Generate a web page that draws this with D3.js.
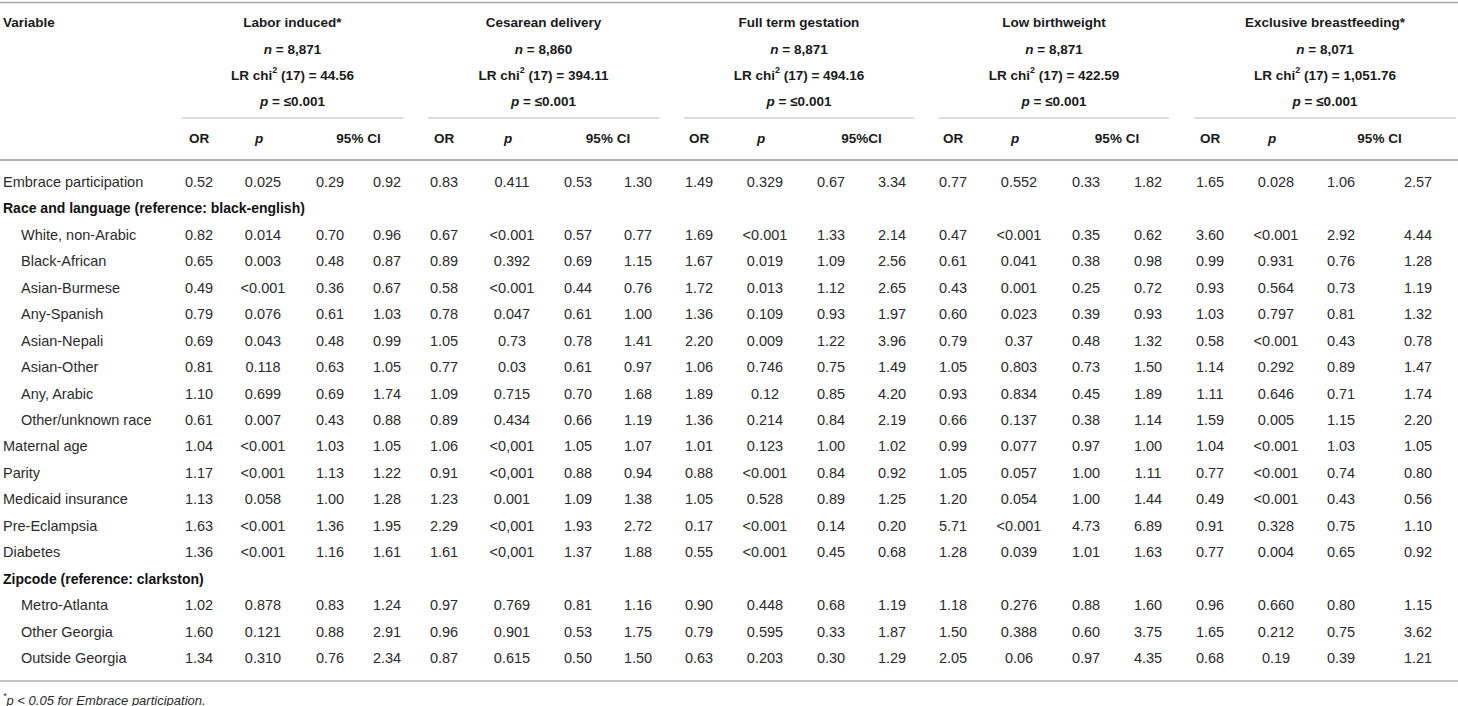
<!DOCTYPE html>
<html>
<head>
<meta charset="utf-8">
<script src="https://cdn.jsdelivr.net/npm/d3@7"></script>
<style>
  body { margin: 0; background: #fff; }
  svg { display: block; font-family: "Liberation Sans", Arial, sans-serif; }
</style>
</head>
<body>
<div id="table"></div>
<script>
// outcome headers
const outcomes = ["Labor induced*", "Cesarean delivery", "Full term gestation", "Low birthweight", "Exclusive breastfeeding*"];
const sampleN = ["8,871", "8,860", "8,871", "8,871", "8,071"];
const lrChi2 = ["44.56", "394.11", "494.16", "422.59", "1,051.76"];
const modelP = ["≤0.001", "≤0.001", "≤0.001", "≤0.001", "≤0.001"];
const ciHeaders = ["95% CI", "95% CI", "95%CI", "95% CI", "95% CI"];

// row labels, kind: v = variable, s = section, i = indented item
const rowLabels = [
  "Embrace participation",
  "Race and language (reference: black-english)",
  "White, non-Arabic", "Black-African", "Asian-Burmese", "Any-Spanish",
  "Asian-Nepali", "Asian-Other", "Any, Arabic", "Other/unknown race",
  "Maternal age", "Parity", "Medicaid insurance", "Pre-Eclampsia", "Diabetes",
  "Zipcode (reference: clarkston)",
  "Metro-Atlanta", "Other Georgia", "Outside Georgia"
];
const rowKinds = ["v", "s", "i", "i", "i", "i", "i", "i", "i", "i", "v", "v", "v", "v", "v", "s", "i", "i", "i"];

// OR, p, CI low, CI high per row
const laborInduced = [
  ["0.52", "0.025", "0.29", "0.92"], null,
  ["0.82", "0.014", "0.70", "0.96"], ["0.65", "0.003", "0.48", "0.87"],
  ["0.49", "<0.001", "0.36", "0.67"], ["0.79", "0.076", "0.61", "1.03"],
  ["0.69", "0.043", "0.48", "0.99"], ["0.81", "0.118", "0.63", "1.05"],
  ["1.10", "0.699", "0.69", "1.74"], ["0.61", "0.007", "0.43", "0.88"],
  ["1.04", "<0.001", "1.03", "1.05"], ["1.17", "<0.001", "1.13", "1.22"],
  ["1.13", "0.058", "1.00", "1.28"], ["1.63", "<0.001", "1.36", "1.95"],
  ["1.36", "<0.001", "1.16", "1.61"], null,
  ["1.02", "0.878", "0.83", "1.24"], ["1.60", "0.121", "0.88", "2.91"],
  ["1.34", "0.310", "0.76", "2.34"]
];
const cesarean = [
  ["0.83", "0.411", "0.53", "1.30"], null,
  ["0.67", "<0.001", "0.57", "0.77"], ["0.89", "0.392", "0.69", "1.15"],
  ["0.58", "<0.001", "0.44", "0.76"], ["0.78", "0.047", "0.61", "1.00"],
  ["1.05", "0.73", "0.78", "1.41"], ["0.77", "0.03", "0.61", "0.97"],
  ["1.09", "0.715", "0.70", "1.68"], ["0.89", "0.434", "0.66", "1.19"],
  ["1.06", "<0,001", "1.05", "1.07"], ["0.91", "<0,001", "0.88", "0.94"],
  ["1.23", "0.001", "1.09", "1.38"], ["2.29", "<0,001", "1.93", "2.72"],
  ["1.61", "<0,001", "1.37", "1.88"], null,
  ["0.97", "0.769", "0.81", "1.16"], ["0.96", "0.901", "0.53", "1.75"],
  ["0.87", "0.615", "0.50", "1.50"]
];
const fullTerm = [
  ["1.49", "0.329", "0.67", "3.34"], null,
  ["1.69", "<0.001", "1.33", "2.14"], ["1.67", "0.019", "1.09", "2.56"],
  ["1.72", "0.013", "1.12", "2.65"], ["1.36", "0.109", "0.93", "1.97"],
  ["2.20", "0.009", "1.22", "3.96"], ["1.06", "0.746", "0.75", "1.49"],
  ["1.89", "0.12", "0.85", "4.20"], ["1.36", "0.214", "0.84", "2.19"],
  ["1.01", "0.123", "1.00", "1.02"], ["0.88", "<0.001", "0.84", "0.92"],
  ["1.05", "0.528", "0.89", "1.25"], ["0.17", "<0.001", "0.14", "0.20"],
  ["0.55", "<0.001", "0.45", "0.68"], null,
  ["0.90", "0.448", "0.68", "1.19"], ["0.79", "0.595", "0.33", "1.87"],
  ["0.63", "0.203", "0.30", "1.29"]
];
const lowBirthweight = [
  ["0.77", "0.552", "0.33", "1.82"], null,
  ["0.47", "<0.001", "0.35", "0.62"], ["0.61", "0.041", "0.38", "0.98"],
  ["0.43", "0.001", "0.25", "0.72"], ["0.60", "0.023", "0.39", "0.93"],
  ["0.79", "0.37", "0.48", "1.32"], ["1.05", "0.803", "0.73", "1.50"],
  ["0.93", "0.834", "0.45", "1.89"], ["0.66", "0.137", "0.38", "1.14"],
  ["0.99", "0.077", "0.97", "1.00"], ["1.05", "0.057", "1.00", "1.11"],
  ["1.20", "0.054", "1.00", "1.44"], ["5.71", "<0.001", "4.73", "6.89"],
  ["1.28", "0.039", "1.01", "1.63"], null,
  ["1.18", "0.276", "0.88", "1.60"], ["1.50", "0.388", "0.60", "3.75"],
  ["2.05", "0.06", "0.97", "4.35"]
];
const breastfeeding = [
  ["1.65", "0.028", "1.06", "2.57"], null,
  ["3.60", "<0.001", "2.92", "4.44"], ["0.99", "0.931", "0.76", "1.28"],
  ["0.93", "0.564", "0.73", "1.19"], ["1.03", "0.797", "0.81", "1.32"],
  ["0.58", "<0.001", "0.43", "0.78"], ["1.14", "0.292", "0.89", "1.47"],
  ["1.11", "0.646", "0.71", "1.74"], ["1.59", "0.005", "1.15", "2.20"],
  ["1.04", "<0.001", "1.03", "1.05"], ["0.77", "<0.001", "0.74", "0.80"],
  ["0.49", "<0.001", "0.43", "0.56"], ["0.91", "0.328", "0.75", "1.10"],
  ["0.77", "0.004", "0.65", "0.92"], null,
  ["0.96", "0.660", "0.80", "1.15"], ["1.65", "0.212", "0.75", "3.62"],
  ["0.68", "0.19", "0.39", "1.21"]
];
const outcomeValues = [laborInduced, cesarean, fullTerm, lowBirthweight, breastfeeding];
const footnote = "p < 0.05 for Embrace participation.";

const LAYOUT = {
  width: 1458,
  height: 706,
  groupStart: 182,
  groupWidths: [221, 231, 230, 230, 262],
  groupGap: 25,
  // centre of OR, p, CI low, CI high from group start
  colOffsets: [[17, 81, 148, 205], [16, 84, 150, 210], [15, 81, 147, 208], [14, 80, 147, 209], [16, 82, 147, 224]],
  headerY: [22, 49, 75, 101],
  underlineY: 118,
  subHeaderY: 138,
  ruleY: 160,
  firstRowY: 182,
  lastRowY: 658,
  bottomRuleY: 681,
  footY: 700,
  indent: 18
}

let svg;

init_svg();
render_table();

function init_svg() {
  svg = d3.select("#table")
    .append("svg")
    .attr("width", LAYOUT.width)
    .attr("height", LAYOUT.height);
}

function group_extents() {
  let x = LAYOUT.groupStart;
  return LAYOUT.groupWidths.map(w => {
    const g = [x, x + w];
    x += w + LAYOUT.groupGap;
    return g;
  });
}

function render_table() {
  const groups = group_extents();

  // column scale: key "g-c" -> x centre
  const colKeys = [];
  const colX = [];
  groups.forEach((g, gi) => {
    LAYOUT.colOffsets[gi].forEach((o, ci) => {
      colKeys.push(gi + "-" + ci);
      colX.push(g[0] + o);
    });
  });
  const x = d3.scaleOrdinal().domain(colKeys).range(colX);
  const y = d3.scalePoint().domain(d3.range(rowLabels.length)).range([LAYOUT.firstRowY, LAYOUT.lastRowY]);

  // rules
  const rules = svg.append("g").classed("rules", true);
  rules.append("line").attr("x1", 0).attr("x2", LAYOUT.width).attr("y1", 2.5).attr("y2", 2.5)
    .attr("stroke", "#a8a8a8").attr("stroke-width", 1.5);
  rules.append("line").attr("x1", 0).attr("x2", LAYOUT.width).attr("y1", LAYOUT.ruleY).attr("y2", LAYOUT.ruleY)
    .attr("stroke", "#b0b0b0").attr("stroke-width", 2);
  rules.append("line").attr("x1", 0).attr("x2", LAYOUT.width).attr("y1", LAYOUT.bottomRuleY).attr("y2", LAYOUT.bottomRuleY)
    .attr("stroke", "#b0b0b0").attr("stroke-width", 1.5);
  rules.selectAll(".underline")
    .data(groups)
    .enter()
    .append("line")
    .classed("underline", true)
    .attr("x1", d => d[0]).attr("x2", d => Math.min(d[1], LAYOUT.width - 2))
    .attr("y1", LAYOUT.underlineY).attr("y2", LAYOUT.underlineY)
    .attr("stroke", "#b8b8b8").attr("stroke-width", 1);

  // header
  const head = svg.append("g")
    .attr("font-weight", "bold")
    .attr("font-size", 13.5)
    .attr("fill", "#1a1a1a")
    .attr("dominant-baseline", "central");

  head.append("text").attr("x", 3).attr("y", LAYOUT.headerY[0]).text("Variable");

  const hg = head.selectAll(".outcome")
    .data(outcomes.map((o, i) => ({ o, i, cx: (groups[i][0] + Math.min(groups[i][1], LAYOUT.width)) / 2 })))
    .enter()
    .append("g")
    .classed("outcome", true)
    .attr("text-anchor", "middle");

  hg.append("text").attr("x", d => d.cx).attr("y", LAYOUT.headerY[0]).text(d => d.o);

  const nLine = hg.append("text").attr("x", d => d.cx).attr("y", LAYOUT.headerY[1]);
  nLine.append("tspan").attr("font-style", "italic").text("n");
  nLine.append("tspan").text(d => " = " + sampleN[d.i]);

  const lrLine = hg.append("text").attr("x", d => d.cx).attr("y", LAYOUT.headerY[2]);
  lrLine.append("tspan").text("LR chi");
  lrLine.append("tspan").attr("font-size", 9).attr("dy", -5).text("2");
  lrLine.append("tspan").attr("dy", 5).text(d => " (17) = " + lrChi2[d.i]);

  const pLine = hg.append("text").attr("x", d => d.cx).attr("y", LAYOUT.headerY[3]);
  pLine.append("tspan").attr("font-style", "italic").text("p");
  pLine.append("tspan").text(d => " = " + modelP[d.i]);

  // sub headers
  const sub = head.selectAll(".sub")
    .data(outcomes.map((o, i) => i))
    .enter()
    .append("g")
    .classed("sub", true)
    .attr("text-anchor", "middle");
  sub.append("text").attr("x", i => x(i + "-0")).attr("y", LAYOUT.subHeaderY).text("OR");
  sub.append("text").attr("x", i => x(i + "-1") - 4).attr("y", LAYOUT.subHeaderY)
    .attr("font-style", "italic").text("p");
  sub.append("text").attr("x", i => (x(i + "-2") + x(i + "-3")) / 2).attr("y", LAYOUT.subHeaderY)
    .text(i => ciHeaders[i]);

  // body rows
  const body = svg.append("g")
    .attr("font-size", 14.5)
    .attr("fill", "#2b2b2b")
    .attr("dominant-baseline", "central");

  body.selectAll(".label")
    .data(rowLabels)
    .enter()
    .append("text")
    .classed("label", true)
    .attr("x", (d, i) => rowKinds[i] === "i" ? 3 + LAYOUT.indent : 3)
    .attr("y", (d, i) => y(i))
    .attr("font-weight", (d, i) => rowKinds[i] === "s" ? "bold" : null)
    .attr("font-size", (d, i) => rowKinds[i] === "s" ? 14 : null)
    .attr("fill", (d, i) => rowKinds[i] === "s" ? "#111" : null)
    .text(d => d);

  const cells = [];
  outcomeValues.forEach((rows, gi) => {
    rows.forEach((r, ri) => {
      if (!r) return;
      r.forEach((v, ci) => cells.push({ v, key: gi + "-" + ci, ri }));
    });
  });

  body.selectAll(".cell")
    .data(cells)
    .enter()
    .append("text")
    .classed("cell", true)
    .attr("text-anchor", "middle")
    .attr("x", d => x(d.key))
    .attr("y", d => y(d.ri))
    .text(d => d.v);

  // footnote
  const foot = svg.append("text")
    .attr("x", 3)
    .attr("y", LAYOUT.footY)
    .attr("font-size", 13)
    .attr("font-style", "italic")
    .attr("fill", "#2b2b2b")
    .attr("dominant-baseline", "central");
  foot.append("tspan").attr("font-size", 9).attr("dy", -4).text("*");
  foot.append("tspan").attr("dy", 4).text(footnote);
}
</script>
</body>
</html>
